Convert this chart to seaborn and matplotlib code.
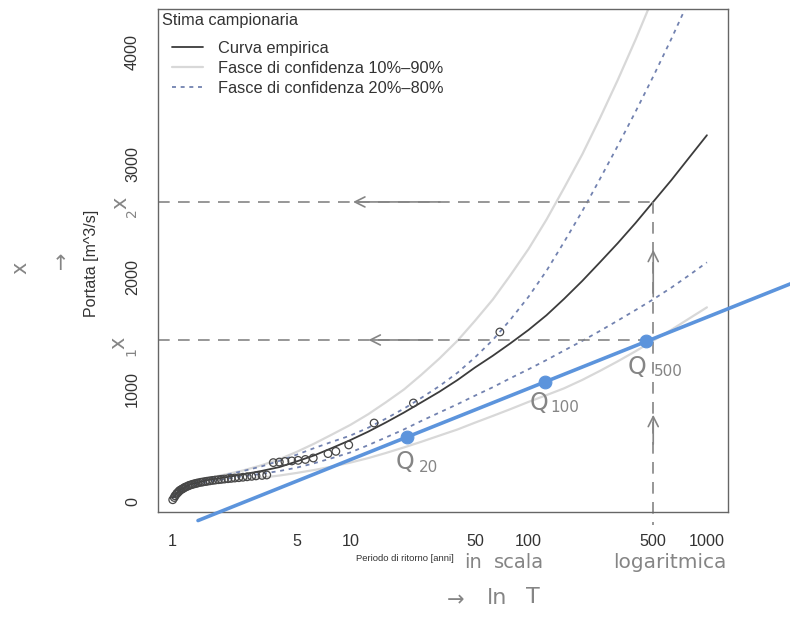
import numpy as np
import pandas as pd
import matplotlib
matplotlib.use('Agg')
import matplotlib.pyplot as plt
import seaborn as sns
from matplotlib.lines import Line2D
from matplotlib.ticker import NullLocator

sns.set_theme(style='white')
plt.rcParams['font.family'] = ['Liberation Sans', 'DejaVu Sans']

# Periodo di ritorno (anni) in cui sono lette le curve
T_curve = [1.01, 1.12, 1.26, 1.58, 2, 2.5, 3.16, 4, 5, 6.3, 7.9, 10, 12.6, 15.8, 20, 25,
           31.6, 40, 50, 63, 79, 100, 126, 158, 200, 251, 316, 398, 501, 631, 794, 1000]
q_empirica = [40, 110, 155, 195, 220, 245, 275, 310, 360, 415, 480, 550, 625, 706, 795, 885,
              980, 1085, 1195, 1300, 1410, 1530, 1660, 1805, 1965, 2130, 2300, 2480, 2670, 2860, 3060, 3260]
q_90 = [50, 120, 165, 210, 245, 280, 325, 380, 445, 520, 600, 685, 780, 885, 1000, 1130,
        1275, 1435, 1610, 1800, 2015, 2250, 2510, 2790, 3090, 3410, 3750, 4110, 4490, 4890, 5310, 5750]
q_10 = [30, 90, 125, 160, 180, 198, 215, 235, 258, 285, 315, 350, 390, 435, 485, 535,
        590, 645, 705, 765, 825, 890, 950, 1010, 1085, 1165, 1250, 1340, 1435, 1530, 1630, 1730]
q_80 = [45, 115, 160, 205, 240, 275, 315, 365, 420, 480, 535, 590, 660, 740, 830, 925,
        1030, 1150, 1285, 1440, 1620, 1825, 2055, 2310, 2585, 2870, 3165, 3470, 3785, 4115, 4460, 4820]
q_20 = [35, 100, 140, 180, 205, 228, 250, 275, 305, 345, 390, 440, 505, 573, 645, 720,
        795, 870, 945, 1020, 1100, 1180, 1262, 1346, 1432, 1520, 1612, 1706, 1802, 1905, 2015, 2130]

# Osservazioni (posizioni di plotting)
T_oss = [1.01, 1.03, 1.04, 1.06, 1.07, 1.09, 1.1, 1.12, 1.14, 1.16, 1.18, 1.2, 1.23, 1.25,
         1.28, 1.31, 1.34, 1.37, 1.4, 1.45, 1.49, 1.54, 1.58, 1.63, 1.69, 1.75, 1.82, 1.89,
         1.97, 2.06, 2.15, 2.25, 2.37, 2.5, 2.64, 2.8, 2.96, 3.2, 3.4, 3.7, 4.0, 4.3, 4.7,
         5.1, 5.6, 6.2, 7.5, 8.3, 9.8, 13.6, 22.6, 69]
Q_oss = [20, 40, 55, 70, 80, 90, 100, 108, 115, 122, 130, 135, 142, 148,
         153, 158, 162, 166, 170, 175, 178, 182, 185, 188, 192, 195, 198, 201,
         204, 207, 210, 213, 216, 220, 224, 228, 232, 236, 240, 350, 355, 360, 365,
         370, 378, 391, 430, 450, 507, 702, 880, 1511]

# Retta disegnata a mano e quantili Q20, Q100, Q500
blue_T = [1.4, 2950]
blue_Q = [-165, 1940]
qpt_T = [20.9, 123, 454]
qpt_Q = [578, 1067, 1431]

# Linee di lettura (a mano)
x2_Q = 2667
x1_Q = 1440
T_lettura = 500

x_ticks = [1, 5, 10, 50, 100, 500, 1000]
y_ticks = [0, 1000, 2000, 3000, 4000]

W, H = 790, 627
fig = plt.figure(figsize=(W / 100, H / 100), dpi=100)
ax = fig.add_axes([158 / W, 1 - 512 / H, 570 / W, 503 / H])
ax.set_xscale('log')

def px(x, y):
    return x / W, 1 - y / H

col_emp = '#3c3c3c'
col_90 = '#d8d8d8'
col_80 = '#7282b0'
col_hand = '#858585'
col_blue = '#5c94dc'
dotted = (0, (2.2, 2.6))

# fasce di confidenza
for q in (q_90, q_10):
    sns.lineplot(x=T_curve, y=q, ax=ax, color=col_90, lw=1.6, sort=False)
for q in (q_80, q_20):
    sns.lineplot(x=T_curve, y=q, ax=ax, color=col_80, lw=1.3, sort=False, linestyle=dotted)
sns.lineplot(x=T_curve, y=q_empirica, ax=ax, color=col_emp, lw=1.3, sort=False)

sns.scatterplot(x=T_oss, y=Q_oss, ax=ax, marker='o', s=30, color='#474747',
                facecolor='none', edgecolor='#474747', linewidth=0.9, zorder=4)

# annotazioni a mano
ax.plot([0.835, T_lettura], [x2_Q, x2_Q], color=col_hand, lw=1.2, ls=(0, (7, 5)))
ax.plot([0.835, 460], [x1_Q, x1_Q], color=col_hand, lw=1.2, ls=(0, (7, 5)))
ax.plot([T_lettura, T_lettura], [x2_Q, -204], color=col_hand, lw=1.2, ls=(0, (7, 5)), clip_on=False)
arrow = dict(arrowstyle='->', color=col_hand, lw=1.2, mutation_scale=18)
ax.annotate('', xy=(10, x2_Q), xytext=(33, x2_Q), arrowprops=arrow)
ax.annotate('', xy=(12.2, x1_Q), xytext=(30, x1_Q), arrowprops=arrow)
ax.annotate('', xy=(T_lettura, 2267), xytext=(T_lettura, 1800), arrowprops=arrow)
ax.annotate('', xy=(T_lettura, 800), xytext=(T_lettura, 490), arrowprops=arrow)

sns.lineplot(x=blue_T, y=blue_Q, ax=ax, color=col_blue, lw=2.6, clip_on=False, zorder=5)
sns.scatterplot(x=qpt_T, y=qpt_Q, ax=ax, color=col_blue, s=85, edgecolor=col_blue, zorder=6)

ax.set_xlim(0.835, 1313)
ax.set_ylim(-89, 4382)
ax.set_xticks(x_ticks, labels=[str(t) for t in x_ticks])
ax.xaxis.set_minor_locator(NullLocator())
ax.set_yticks(y_ticks, labels=[str(t) for t in y_ticks])
for lab in ax.get_yticklabels():
    lab.set_rotation(90)
    lab.set_va('center')
ax.tick_params(axis='both', direction='out', length=7, width=0.9, colors='#555555',
               labelsize=11.6, labelcolor='#333333')
ax.tick_params(axis='x', pad=9)
ax.tick_params(axis='y', pad=6)
for s in ax.spines.values():
    s.set_color('#666666')
    s.set_linewidth(1.0)

ax.set_xlabel('Periodo di ritorno [anni]', fontsize=6.8, color='#333333')
ax.xaxis.set_label_coords((405 - 158) / 570, -0.084)
ax.set_ylabel('Portata [m^3/s]', fontsize=11.5, color='#333333')
ax.yaxis.set_label_coords(-0.104, 0.495)

handles = [Line2D([], [], color=col_emp, lw=1.3),
           Line2D([], [], color=col_90, lw=1.6),
           Line2D([], [], color=col_80, lw=1.3, ls=dotted)]
labels = ['Curva empirica', 'Fasce di confidenza 10%–90%', 'Fasce di confidenza 20%–80%']
leg = ax.legend(handles, labels, loc='upper left', bbox_to_anchor=((172 - 158) / 570, 0.936),
                frameon=False, fontsize=11.8, handlelength=1.9, handletextpad=0.9,
                labelspacing=0.3, borderaxespad=0, borderpad=0)
for t in leg.get_texts():
    t.set_color('#333333')
fig.text(*px(162, 20), 'Stima campionaria', fontsize=11.8, color='#333333', ha='left', va='center')

# scritte a mano
hand = dict(color=col_hand, family='DejaVu Sans')
fig.text(*px(20, 268), 'x', fontsize=15, rotation=90, ha='center', va='center', **hand)
fig.text(*px(60, 264), '↑', fontsize=15, ha='center', va='center', **hand)
fig.text(*px(120, 203), 'x', fontsize=15, rotation=90, ha='center', va='center', **hand)
fig.text(*px(132, 213), '2', fontsize=10, rotation=90, ha='center', va='center', **hand)
fig.text(*px(118, 343), 'x', fontsize=15, rotation=90, ha='center', va='center', **hand)
fig.text(*px(131, 352), '1', fontsize=10, rotation=90, ha='center', va='center', **hand)
for (qx, qy, sub, sx) in [(405, 462, '20', 429), (539, 403, '100', 565), (637, 367, '500', 668)]:
    fig.text(*px(qx, qy), 'Q', fontsize=17, ha='center', va='center', **hand)
    fig.text(*px(sx, qy + 5), sub, fontsize=11, ha='center', va='center', **hand)
fig.text(*px(473, 563), 'in', fontsize=14, ha='center', va='center', **hand)
fig.text(*px(519, 563), 'scala', fontsize=14, ha='center', va='center', **hand)
fig.text(*px(670, 563), 'logaritmica', fontsize=14.5, ha='center', va='center', **hand)
fig.text(*px(456, 600), '→', fontsize=15, ha='center', va='center', **hand)
fig.text(*px(497, 598), 'ln', fontsize=16, ha='center', va='center', **hand)
fig.text(*px(533, 597), 'T', fontsize=16, ha='center', va='center', **hand)

fig.savefig('out.png', dpi=100)
